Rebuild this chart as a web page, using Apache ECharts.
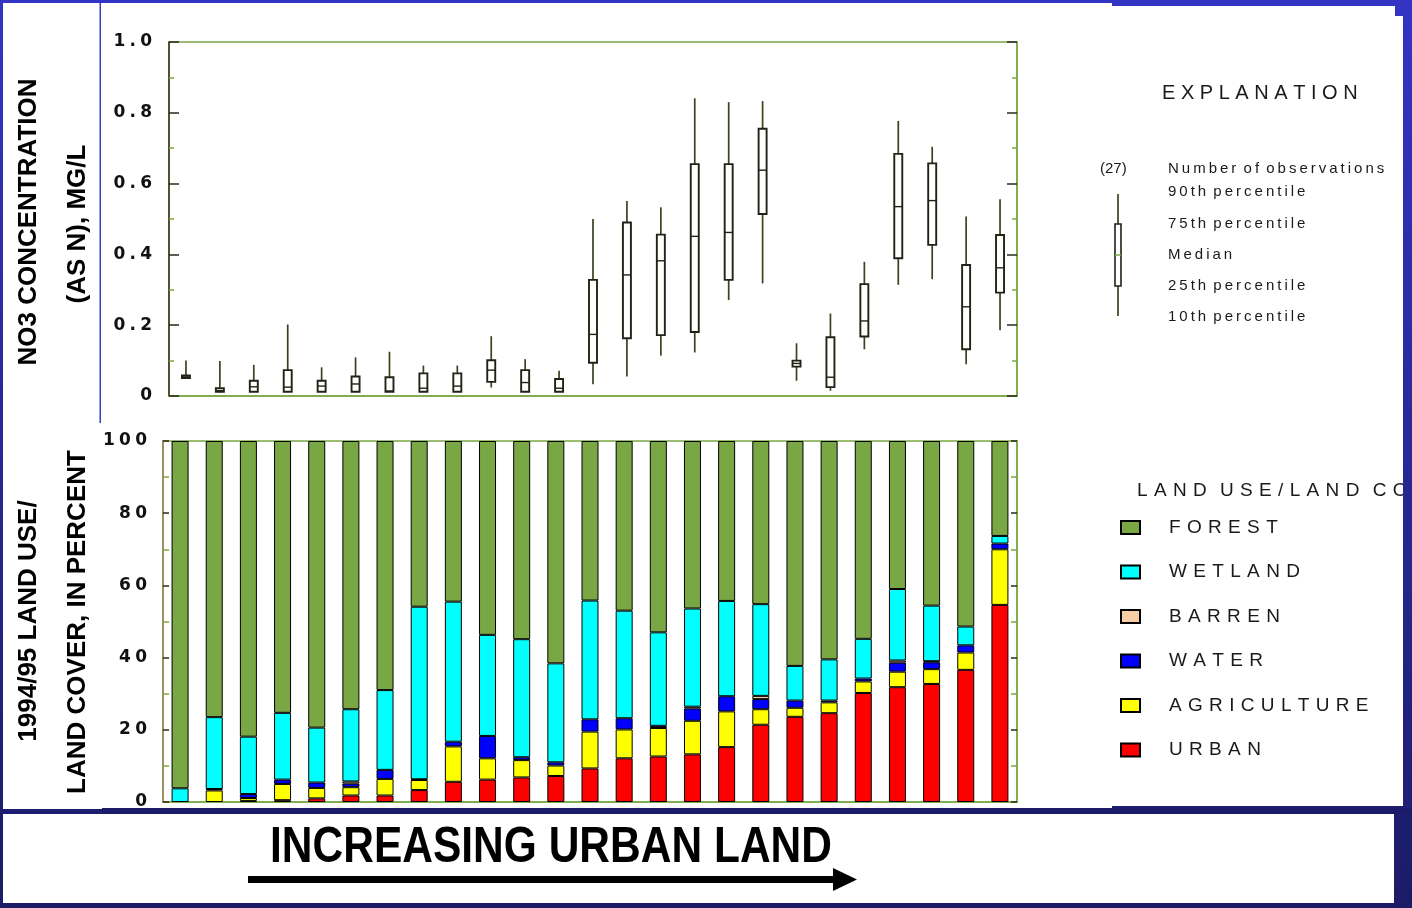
<!DOCTYPE html>
<html>
<head>
<meta charset="utf-8">
<script src="https://cdn.jsdelivr.net/npm/echarts@6.0.0/dist/echarts.min.js"></script>
<style>
html,body{margin:0;padding:0;background:#1b1b6b;}
#chart{width:1412px;height:908px;}
</style>
</head>
<body>
<div id="chart"></div>
<script>
// Sampling sites, ordered by increasing urban land
const sites = ['1','2','3','4','5','6','7','8','9','10','11','12','13','14','15','16','17','18','19','20','21','22','23','24','25'];

// NO3 concentration (as N), mg/L: percentiles per site
const p10    = [0.050,0.010,0.012,0.012,0.012,0.012,0.012,0.012,0.012,0.024,0.012,0.012,0.033,0.055,0.114,0.123,0.271,0.318,0.043,0.015,0.132,0.314,0.330,0.090,0.186];
const p25    = [0.051,0.012,0.012,0.012,0.012,0.012,0.012,0.012,0.012,0.040,0.012,0.012,0.094,0.163,0.172,0.181,0.328,0.514,0.083,0.025,0.168,0.389,0.427,0.132,0.292];
const median = [0.054,0.015,0.026,0.025,0.028,0.034,0.014,0.022,0.028,0.073,0.038,0.022,0.174,0.342,0.382,0.451,0.462,0.638,0.092,0.053,0.212,0.535,0.552,0.252,0.362];
const p75    = [0.058,0.022,0.043,0.073,0.043,0.055,0.053,0.064,0.064,0.101,0.073,0.048,0.328,0.490,0.456,0.655,0.655,0.755,0.100,0.166,0.316,0.684,0.657,0.370,0.455];
const p90    = [0.100,0.099,0.088,0.202,0.081,0.109,0.125,0.086,0.086,0.169,0.104,0.071,0.500,0.551,0.533,0.841,0.830,0.833,0.149,0.233,0.379,0.777,0.704,0.507,0.556];

// 1994/95 land use / land cover, percent
const urban       = [0,0,0.3,0.5,1.0,1.8,1.8,3.3,5.6,6.2,6.8,7.2,9.3,12.1,12.6,13.2,15.2,21.4,23.6,24.6,30.2,31.8,32.7,36.6,54.6];
const agriculture = [0,3.2,0.8,4.5,2.9,2.3,4.6,2.8,9.8,5.9,4.8,2.9,10.2,8.0,7.9,9.3,9.9,4.3,2.5,3.0,3.2,4.3,4.1,4.8,15.4];
const water       = [0,0.4,1.1,1.2,1.5,1.0,2.5,0.2,1.3,6.2,0.8,0.9,3.4,3.1,0.6,3.4,4.2,2.8,2.0,0.5,0.8,2.5,1.9,2.0,1.6];
const barren      = [0,0,0,0,0,0.6,0,0,0,0,0,0,0,0,0,0.5,0,0.9,0,0,0,0.6,0.3,0,0];
const wetland     = [3.8,19.9,15.9,18.5,15.2,20.0,22.1,47.8,38.8,28.0,32.7,27.4,32.9,29.8,25.9,27.2,26.4,25.4,9.6,11.4,11.0,19.8,15.4,5.2,2.1];
const forest      = [96.2,76.5,81.9,75.3,79.4,74.3,69.0,45.9,44.5,53.7,54.9,61.6,44.2,47.0,53.0,46.4,44.3,45.2,62.3,60.5,54.8,41.0,45.6,51.4,26.3];

const explanationItems = ['Number of observations','90th percentile','75th percentile','Median','25th percentile','10th percentile'];

const FRAME = '#79a844';
const INK = '#1a1a1a';
const BOX_LINE = '#1f2414';
const WHISKER = '#34461c';

// spread letters apart with a narrow space
function spaced(s, gap, wordGap) {
  return s.split(' ').map(w => Array.from(w).join(gap)).join(wordGap || ' ');
}

function tickLabel(v) {
  const t = v === 0 ? '0' : (Number.isInteger(v) && v > 1 ? String(v) : v.toFixed(1));
  return Array.from(t).join('\u2005');
}

function renderBox(params, api) {
  const i = api.value(0);
  const x = api.coord([i, 0])[0];
  const y = k => api.coord([i, api.value(k)])[1];
  const y10 = y(1), y25 = y(2), ymed = y(3), y75 = y(4), y90 = y(5);
  const half = 4;
  return {
    type: 'group',
    children: [
      {type: 'line', shape: {x1: x, y1: y90, x2: x, y2: y75}, style: {stroke: WHISKER, lineWidth: 1.7}},
      {type: 'line', shape: {x1: x, y1: y25, x2: x, y2: y10}, style: {stroke: WHISKER, lineWidth: 1.7}},
      {type: 'rect', shape: {x: x - half, y: y75, width: half * 2, height: Math.max(y25 - y75, 1.5)},
        style: {fill: '#ffffff', stroke: BOX_LINE, lineWidth: 1.9}},
      {type: 'line', shape: {x1: x - half, y1: ymed, x2: x + half, y2: ymed}, style: {stroke: BOX_LINE, lineWidth: 1.4}}
    ]
  };
}

const boxData = sites.map((s, i) => [i, p10[i], p25[i], median[i], p75[i], p90[i]]);

function landSeries(name, values, color) {
  return {
    name: name,
    type: 'bar',
    stack: 'landcover',
    xAxisIndex: 1,
    yAxisIndex: 2,
    barWidth: 17,
    data: values.map(v => (v === 0 ? '-' : v)),
    itemStyle: {color: color, borderColor: '#000000', borderWidth: 1},
    emphasis: {disabled: true}
  };
}

function yAxisPair(gridIndex, max, interval, majorLen, minorLen, leftLine, showLabels, margin) {
  const base = {
    type: 'value',
    gridIndex: gridIndex,
    min: 0,
    max: max,
    interval: interval,
    splitLine: {show: false},
    minorSplitLine: {show: false}
  };
  return [
    Object.assign({}, base, {
      position: 'left',
      axisLine: {show: true, lineStyle: {color: leftLine, width: 1.5}},
      axisTick: {show: true, inside: true, length: majorLen, lineStyle: {color: '#2a2a1a', width: 1.5}},
      minorTick: {show: true, splitNumber: 2, length: minorLen, lineStyle: {color: FRAME, width: 1.5}},
      axisLabel: {
        show: showLabels, margin: margin, formatter: tickLabel,
        fontFamily: 'DejaVu Sans', fontWeight: 'bold', fontSize: 17, color: '#111'
      }
    }),
    Object.assign({}, base, {
      position: 'right',
      axisLine: {show: true, lineStyle: {color: FRAME, width: 1.5}},
      axisTick: {show: true, inside: true, length: majorLen, lineStyle: {color: '#2a2a1a', width: 1.5}},
      minorTick: {show: true, splitNumber: 2, length: minorLen, lineStyle: {color: FRAME, width: 1.5}},
      axisLabel: {show: false}
    })
  ];
}

const titleFont = {fontFamily: 'Liberation Sans', fontWeight: 'bold', fontSize: 26, fill: '#000'};

function vText(x, y, text) {
  return {
    type: 'text', x: x, y: y, rotation: Math.PI / 2, z: 5,
    style: Object.assign({text: text, align: 'center', verticalAlign: 'middle'}, titleFont)
  };
}

const explTextY = [169, 192, 224, 255, 286, 317];

const graphics = [
  // white panels on the slide
  {type: 'rect', z: -20, shape: {x: 3, y: 3, width: 1109, height: 806}, style: {fill: '#ffffff'}},
  {type: 'rect', z: -20, shape: {x: 1112, y: 6, width: 283, height: 800}, style: {fill: '#ffffff'}},
  {type: 'rect', z: -20, shape: {x: 1395, y: 16, width: 8, height: 790}, style: {fill: '#ffffff'}},
  {type: 'rect', z: -19, shape: {x: 99.5, y: 3, width: 1.5, height: 420}, style: {fill: '#3b3bc4'}},
  {type: 'rect', z: -19, shape: {x: 102, y: 808, width: 1310, height: 6}, style: {fill: '#1b1b6b'}},
  {type: 'rect', z: -20, shape: {x: 3, y: 814, width: 1391, height: 89}, style: {fill: '#ffffff'}},

  // axis titles
  vText(29, 222, 'NO3 CONCENTRATION'),
  vText(78, 224, '(AS N), MG/L'),
  vText(29, 621, '1994/95 LAND USE/'),
  vText(78, 622, 'LAND COVER, IN PERCENT'),

  // direction caption and arrow
  {type: 'text', x: 551, y: 848, scaleX: 0.85, z: 5,
    style: {text: 'INCREASING URBAN LAND', align: 'center', verticalAlign: 'middle',
      fontFamily: 'Liberation Sans', fontWeight: 'bold', fontSize: 50, fill: '#000'}},
  {type: 'rect', z: 5, shape: {x: 248, y: 876, width: 588, height: 7}, style: {fill: '#000'}},
  {type: 'polygon', z: 5, shape: {points: [[833, 868], [857, 879.5], [833, 891]]}, style: {fill: '#000'}},

  // explanation of the box symbol
  {type: 'text', x: 1162, y: 93, z: 5,
    style: {text: spaced('EXPLANATION', ' '), align: 'left', verticalAlign: 'middle',
      fontFamily: 'Liberation Sans', fontSize: 20, fill: INK}},
  {type: 'text', x: 1100, y: 169, z: 5,
    style: {text: '(27)', align: 'left', verticalAlign: 'middle',
      fontFamily: 'Liberation Sans', fontSize: 15, fill: INK}},
  {type: 'line', z: 5, shape: {x1: 1118, y1: 194, x2: 1118, y2: 224}, style: {stroke: WHISKER, lineWidth: 1.7}},
  {type: 'line', z: 5, shape: {x1: 1118, y1: 286, x2: 1118, y2: 316}, style: {stroke: WHISKER, lineWidth: 1.7}},
  {type: 'rect', z: 5, shape: {x: 1115, y: 224, width: 6, height: 62}, style: {fill: '#fff', stroke: BOX_LINE, lineWidth: 1.6}},
  {type: 'line', z: 5, shape: {x1: 1115, y1: 255, x2: 1121, y2: 255}, style: {stroke: FRAME, lineWidth: 1.4}},

  // land use legend heading
  {type: 'text', x: 1137, y: 491, z: 5,
    style: {text: spaced('LAND USE/LAND COVER', '\u2004', '\u2002\u2009'), align: 'left', verticalAlign: 'middle',
      fontFamily: 'Liberation Sans', fontSize: 19, fill: INK}},
  // slide edge over the right margin
  {type: 'rect', z: 50, shape: {x: 1403, y: 0, width: 9, height: 808},
    style: {fill: new echarts.graphic.LinearGradient(0, 0, 0, 1, [
      {offset: 0, color: '#3434c4'}, {offset: 1, color: '#1f1f74'}])}}
];

explanationItems.forEach((t, i) => {
  graphics.push({type: 'text', x: 1168, y: explTextY[i], z: 5,
    style: {text: spaced(t, '\u2009', ' \u2009'), align: 'left', verticalAlign: 'middle',
      fontFamily: 'Liberation Sans', fontSize: 15, fill: INK}});
});

const axesTop = yAxisPair(0, 1, 0.2, 10, 5, '#3a2e18', true, 17);
const axesBottom = yAxisPair(1, 100, 20, 6, 6, '#9a8058', true, 16);

const option = {
  animation: false,
  backgroundColor: new echarts.graphic.LinearGradient(0, 0, 0, 1, [
    {offset: 0, color: '#3434c4'}, {offset: 1, color: '#1b1b66'}]),
  grid: [
    {left: 169, top: 42, width: 848, height: 354, show: true, borderColor: FRAME, borderWidth: 1.5, backgroundColor: 'transparent'},
    {left: 163, top: 441, width: 854, height: 361, show: true, borderColor: FRAME, borderWidth: 1.5, backgroundColor: 'transparent'}
  ],
  xAxis: [
    {type: 'category', gridIndex: 0, data: sites, axisLine: {lineStyle: {color: FRAME, width: 1.5}},
      axisTick: {show: false}, axisLabel: {show: false}, splitLine: {show: false}},
    {type: 'category', gridIndex: 1, data: sites, axisLine: {lineStyle: {color: FRAME, width: 1.5}},
      axisTick: {show: false}, axisLabel: {show: false}, splitLine: {show: false}}
  ],
  yAxis: [axesTop[0], axesTop[1], axesBottom[0], axesBottom[1]],
  legend: {
    orient: 'vertical',
    left: 1120,
    top: 518,
    padding: 0,
    icon: 'rect',
    itemWidth: 19,
    itemHeight: 13,
    itemGap: 25.5,
    selectedMode: false,
    data: ['FOREST', 'WETLAND', 'BARREN', 'WATER', 'AGRICULTURE', 'URBAN'],
    formatter: n => spaced(n, '\u2004'),
    textStyle: {fontFamily: 'Liberation Sans', fontSize: 19, color: INK, lineHeight: 14, padding: [4, 0, 0, 24]}
  },
  graphic: graphics,
  series: [
    {
      type: 'custom',
      name: 'NO3',
      xAxisIndex: 0,
      yAxisIndex: 0,
      renderItem: renderBox,
      encode: {x: 0, y: [1, 2, 3, 4, 5]},
      data: boxData,
      z: 3
    },
    landSeries('URBAN', urban, '#ff0000'),
    landSeries('AGRICULTURE', agriculture, '#ffff00'),
    landSeries('WATER', water, '#0000ff'),
    landSeries('BARREN', barren, '#f8cda4'),
    landSeries('WETLAND', wetland, '#00ffff'),
    landSeries('FOREST', forest, '#79a744')
  ]
};

const chart = echarts.init(document.getElementById('chart'), null, {renderer: 'canvas'});
chart.setOption(option);
</script>
</body>
</html>
